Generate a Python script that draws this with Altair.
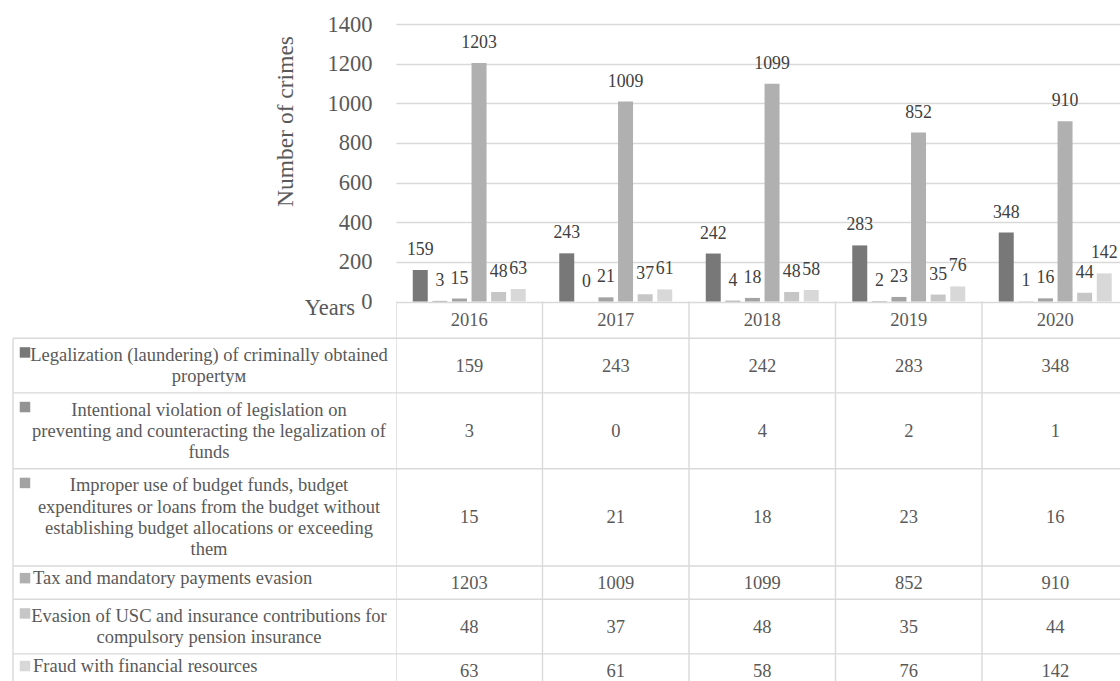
import altair as alt
import pandas as pd

# ---------------- data ----------------
years = ["2016", "2017", "2018", "2019", "2020"]

label_lines = [
    ["Legalization (laundering) of criminally obtained", "propertyм"],
    ["Intentional violation of legislation on",
     "preventing and counteracting the legalization of", "funds"],
    ["Improper use of budget funds, budget",
     "expenditures or loans from the budget without",
     "establishing budget allocations or exceeding", "them"],
    ["Tax and mandatory payments evasion"],
    ["Evasion of USC and insurance contributions for",
     "compulsory pension insurance"],
    ["Fraud with financial resources"],
]

laundering = [159, 243, 242, 283, 348]
violation = [3, 0, 4, 2, 1]
improper = [15, 21, 18, 23, 16]
tax_evasion = [1203, 1009, 1099, 852, 910]
usc_evasion = [48, 37, 48, 35, 44]
fraud = [63, 61, 58, 76, 142]

y_ticks = [0, 200, 400, 600, 800, 1000, 1200, 1400]

grays = ["#787878", "#939393", "#a3a3a3", "#b0b0b0", "#c6c6c6", "#d8d8d8"]

# ---------------- layout (pixels, relative to plot origin) ----------------
LEFT, TOP = 396, 24
W, H = 724, 657
BAR_H = 277.5          # height of the bar section (0 .. 1400)
COL_W = 146.5          # width of one year column
HEADER_H = 36.8
LINE_H = 21.3
ROW_PAD = 12
TABLE_LEFT = -383
FONT = "Liberation Serif"
TEXT = "#595959"
GRID = "#d9d9d9"

series_values = [laundering, violation, improper, tax_evasion, usc_evasion, fraud]
names = [" ".join(l) for l in label_lines]

long_rows = []
for name, vals in zip(names, series_values):
    for yr, v in zip(years, vals):
        long_rows.append({"series": name, "year": yr, "value": v})
long_df = pd.DataFrame(long_rows)

# table rows computed from the number of text lines
row_recs = []
top = BAR_H + HEADER_H
for name, lines in zip(names, label_lines):
    n = len(lines)
    h = ROW_PAD + LINE_H * n
    mid = top + h / 2
    if n == 1:
        first = mid - 4.5
        mk = first
    else:
        first = mid - (n - 1) * LINE_H / 2
        mk = first - 2.5
    row_recs.append({
        "series": name, "text": "\n".join(lines), "n": n,
        "top": top, "bottom": top + h, "mid": mid,
        "first": first, "mk": mk, "single": n == 1,
    })
    top += h
rows_df = pd.DataFrame(row_recs)

cells_df = long_df.merge(rows_df[["series", "mid"]], on="series")
header_df = pd.DataFrame({"year": years, "mid": [BAR_H + HEADER_H / 2] * len(years)})
hlines_df = pd.DataFrame({"y": list(rows_df["top"]) + [rows_df["bottom"].iloc[-1]]})
vlines_df = pd.DataFrame({"year": years})
years_title_df = pd.DataFrame({"t": ["Years"]})

# ---------------- encodings ----------------
x_scale = alt.Scale(domain=years, range=[0, COL_W * len(years)],
                    paddingInner=0, paddingOuter=0)
x_enc = alt.X("year:N", sort=years, scale=x_scale, axis=None)
xoff_enc = alt.XOffset("series:N", sort=names,
                       scale=alt.Scale(domain=names, paddingInner=0.235, paddingOuter=0.855))
y_enc = alt.Y("value:Q",
              scale=alt.Scale(domain=[0, 1400], range=[BAR_H, 0], nice=False),
              axis=alt.Axis(values=y_ticks, format="d", title="Number of crimes", grid=True,
                            gridColor=GRID, gridWidth=1.4, domain=False, ticks=False,
                            labelFont=FONT, labelFontSize=22.5, labelColor=TEXT,
                            labelPadding=24, titleFont=FONT, titleFontSize=23.5,
                            titleColor=TEXT, titleFontWeight="normal", titleAngle=270,
                            titleAlign="center", titleBaseline="middle",
                            titleX=-111, titleY=97))
color_enc = alt.Color("series:N", sort=names,
                      scale=alt.Scale(domain=names, range=grays), legend=None)

bars = alt.Chart(long_df).mark_bar().encode(
    x=x_enc, xOffset=xoff_enc, y=y_enc, color=color_enc)

bar_labels = alt.Chart(long_df).mark_text(
    dy=-15, baseline="alphabetic", font=FONT, fontSize=17.8, color="#404040"
).encode(x=x_enc, xOffset=xoff_enc, y=y_enc, text="value:Q")

vlines = alt.Chart(vlines_df).mark_rule(color=GRID, strokeWidth=1.4, clip=True).encode(
    x=alt.X("year:N", sort=years, bandPosition=0, scale=x_scale, axis=None),
    y=alt.value(BAR_H), y2=alt.value(H + 20))

left_border = alt.Chart(pd.DataFrame({"a": [0]})).mark_rule(color=GRID, strokeWidth=1.4).encode(
    x=alt.value(TABLE_LEFT), y=alt.value(BAR_H + HEADER_H), y2=alt.value(H + 20))

hlines = alt.Chart(hlines_df).mark_rule(color=GRID, strokeWidth=1.4).encode(
    y=alt.Y("y:Q", scale=None), x=alt.value(TABLE_LEFT), x2=alt.value(W))

header = alt.Chart(header_df).mark_text(
    font=FONT, fontSize=18.5, color=TEXT, baseline="middle"
).encode(x=x_enc, y=alt.Y("mid:Q", scale=None), text="year:N")

cells = alt.Chart(cells_df).mark_text(
    font=FONT, fontSize=18.5, color=TEXT, baseline="middle"
).encode(x=x_enc, y=alt.Y("mid:Q", scale=None), text="value:Q")

labels_multi = alt.Chart(rows_df).transform_filter("!datum.single").mark_text(
    font=FONT, fontSize=18.5, color=TEXT, baseline="middle", align="center",
    lineBreak="\n", lineHeight=LINE_H
).encode(x=alt.value(-187), y=alt.Y("first:Q", scale=None), text="text:N")

labels_single = alt.Chart(rows_df).transform_filter("datum.single").mark_text(
    font=FONT, fontSize=18.5, color=TEXT, baseline="middle", align="left"
).encode(x=alt.value(-363), y=alt.Y("first:Q", scale=None), text="text:N")

markers = alt.Chart(rows_df).mark_square(size=110, opacity=1).encode(
    x=alt.value(-371), y=alt.Y("mk:Q", scale=None), color=color_enc)

years_title = alt.Chart(years_title_df).mark_text(
    font=FONT, fontSize=22.5, color=TEXT, align="right", baseline="alphabetic"
).encode(x=alt.value(-41), y=alt.value(291), text="t:N")

chart = alt.layer(
    vlines, left_border, hlines, bars, bar_labels, header, cells,
    labels_multi, labels_single, markers, years_title
).properties(
    width=W, height=H,
    padding={"left": LEFT, "top": TOP, "right": 0, "bottom": 0},
    autosize=alt.AutoSizeParams(type="none"),
).configure_view(stroke=None)

chart.save("out.html", embed_options={"renderer": "svg", "actions": False})
